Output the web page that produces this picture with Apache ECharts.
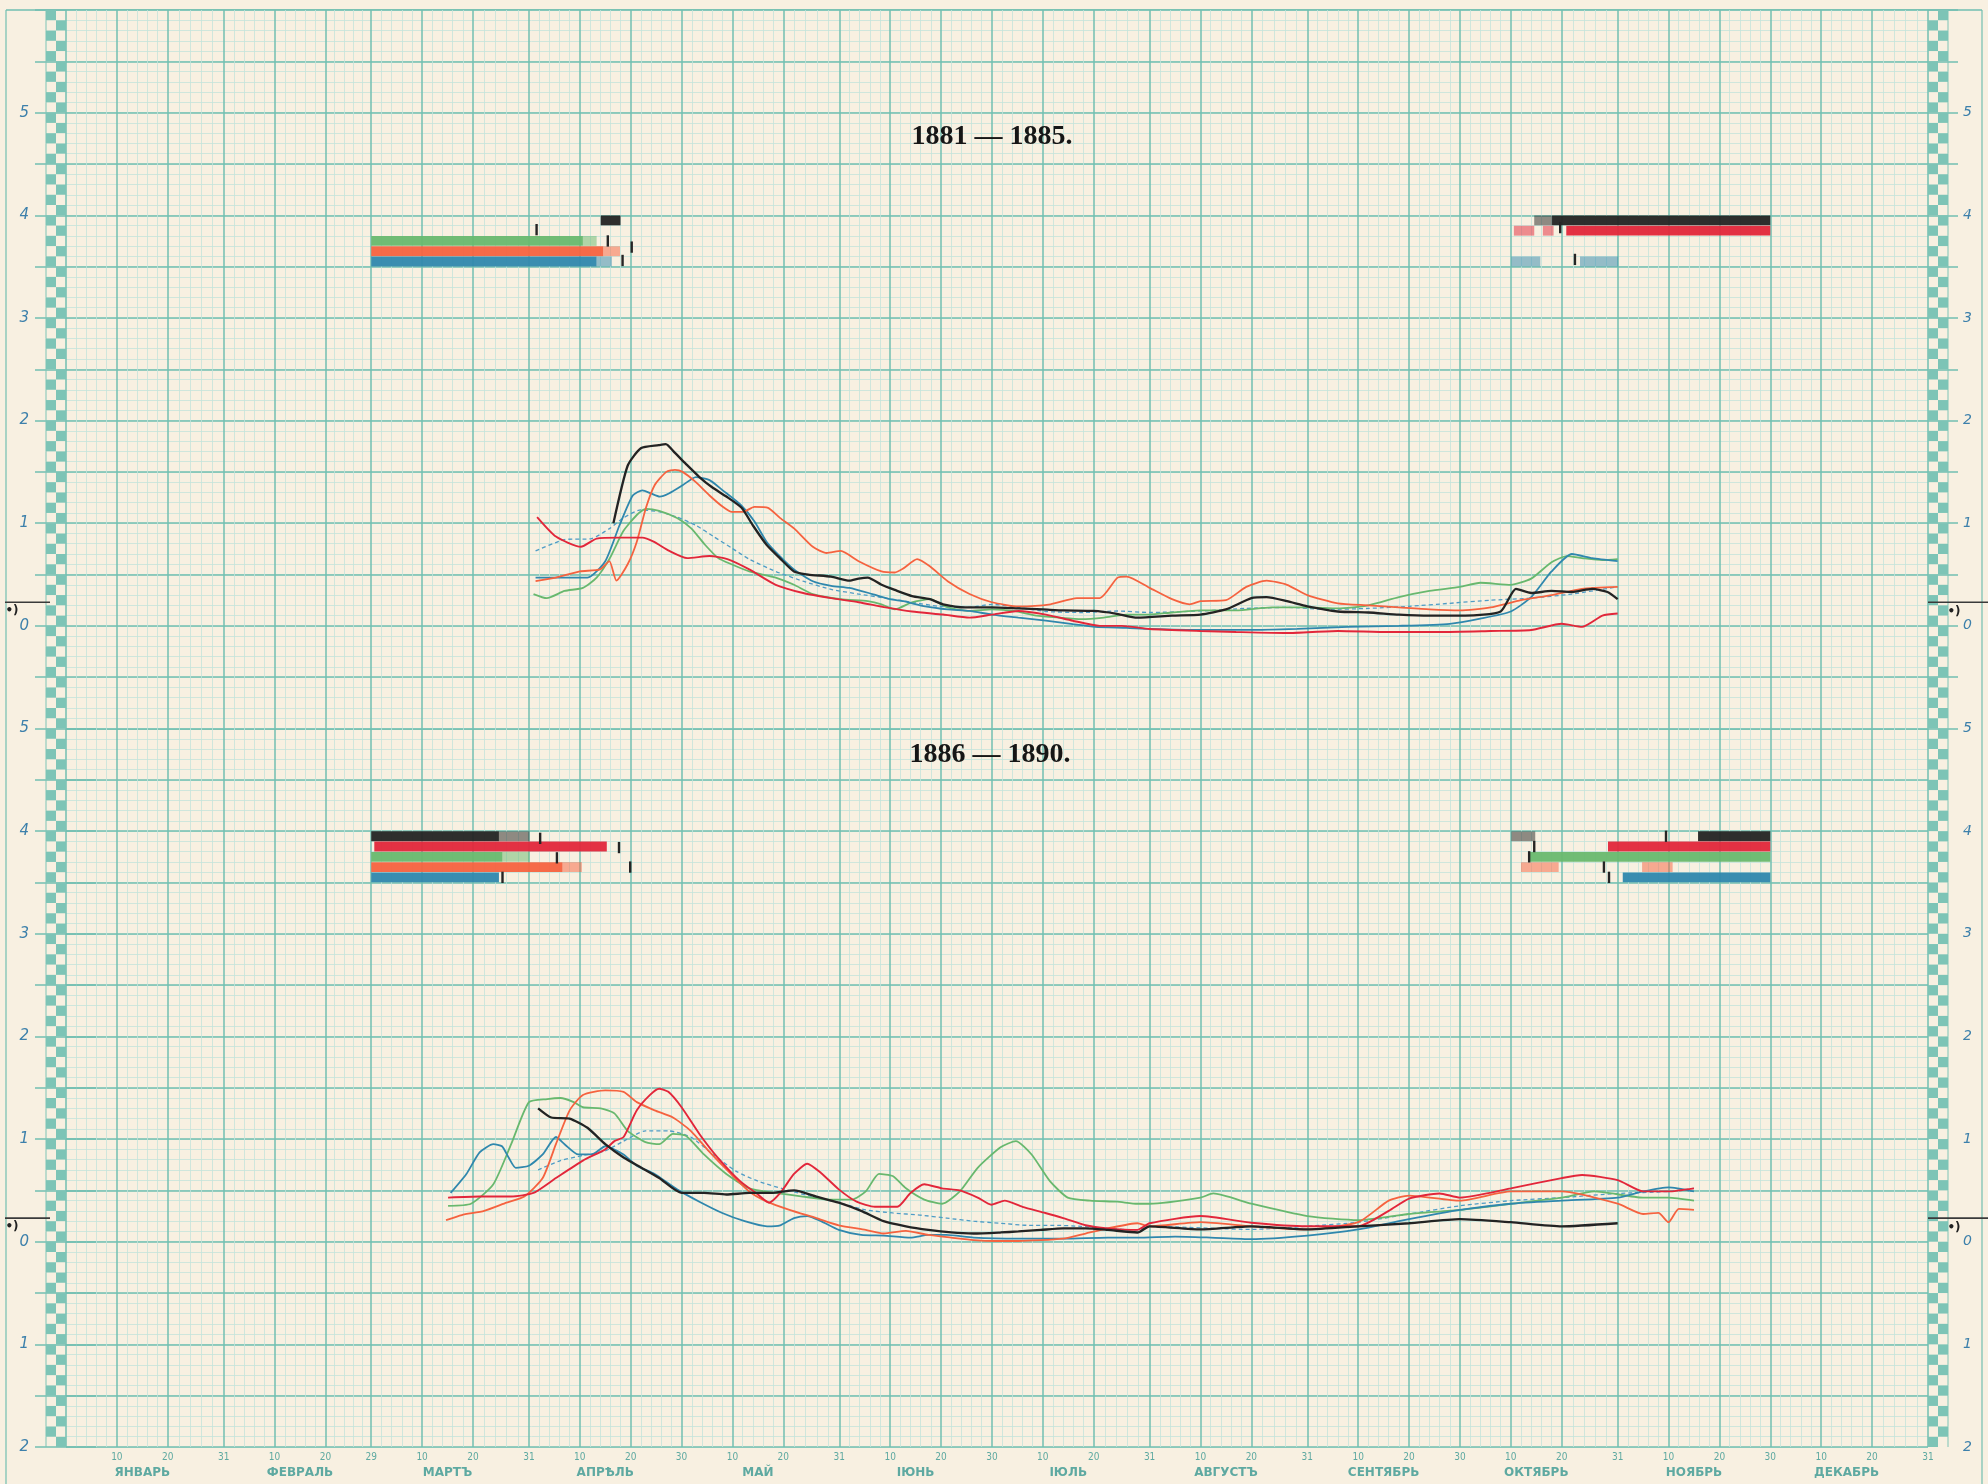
<!DOCTYPE html>
<html><head><meta charset="utf-8">
<script src="https://cdn.jsdelivr.net/npm/echarts@6/dist/echarts.min.js"></script>
<style>html,body{margin:0;padding:0;background:#f8f0e1;}#c{width:1988px;height:1484px;}</style>
</head><body><div id="c"></div>
<script>
// ---------- calendar & labels ----------
const monthNames = ['ЯНВАРЬ','ФЕВРАЛЬ','МАРТЪ','АПРѢЛЬ','МАЙ','ІЮНЬ','ІЮЛЬ','АВГУСТЪ','СЕНТЯБРЬ','ОКТЯБРЬ','НОЯБРЬ','ДЕКАБРЬ'];
const monthLengths = [31,29,31,30,31,30,31,31,30,31,30,31];
const dayTickLabels = ['10','20','31','10','20','29','10','20','31','10','20','30','10','20','31','10','20','30',
                       '10','20','31','10','20','31','10','20','30','10','20','31','10','20','30','10','20','31'];
const yLabelsTop = [0,1,2,3,4,5];
const yLabelsBottom = [-2,-1,0,1,2,3,4,5];
const panelTitles = ['1881 — 1885.', '1886 — 1890.'];

// ---------- 1881–1885 curves [day of year, value] ----------
const topBlack = [[107.6,1.00],[110.4,1.56],[113,1.73],[116.5,1.76],[117.9,1.77],[119.6,1.69],[121.8,1.58],[124.5,1.45],[127,1.35],[129.8,1.26],[132.8,1.15],[135,0.98],[137.7,0.79],[140.3,0.66],[143.1,0.53],[145.9,0.50],[150.4,0.48],[154,0.44],[155.8,0.46],[157.6,0.47],[160.3,0.40],[162.9,0.35],[166.3,0.29],[169.8,0.26],[172.4,0.21],[176.7,0.18],[182,0.18],[187.2,0.17],[192,0.16],[196.1,0.15],[202,0.145],[206.3,0.12],[210.6,0.08],[217.4,0.10],[223,0.11],[228,0.16],[233,0.27],[236,0.28],[240,0.24],[244,0.19],[250,0.14],[256,0.13],[262,0.11],[268,0.10],[275,0.10],[282,0.14],[285,0.36],[288,0.32],[292,0.34],[296,0.33],[300,0.36],[303,0.33],[305,0.26]];
const topRed = [[92.6,1.06],[96.3,0.87],[101.2,0.77],[104.3,0.85],[108.8,0.86],[113.3,0.86],[115.5,0.82],[118.6,0.73],[122.1,0.66],[126.5,0.68],[130,0.65],[134.3,0.55],[139.5,0.40],[144.9,0.32],[150.4,0.27],[155.8,0.23],[161.1,0.18],[166.3,0.14],[172.4,0.11],[177.6,0.08],[182,0.11],[187.2,0.145],[192.6,0.11],[197.9,0.05],[203.2,0.0],[207.5,0.0],[213,-0.03],[223,-0.05],[230,-0.06],[240,-0.07],[250,-0.05],[260,-0.06],[270,-0.06],[280,-0.05],[288,-0.04],[294,0.02],[298,-0.01],[302,0.10],[305,0.12]];
const topSalmon = [[92.3,0.435],[96.3,0.47],[101,0.53],[105,0.55],[106.8,0.63],[108.2,0.44],[110.4,0.60],[112.2,0.82],[114,1.15],[115.7,1.37],[118,1.50],[119.7,1.52],[121.2,1.50],[123.8,1.40],[126.5,1.27],[129.1,1.16],[130.9,1.11],[133.1,1.11],[135.3,1.16],[138,1.15],[140.4,1.05],[143.1,0.95],[146.8,0.77],[149.5,0.71],[152.3,0.73],[155.8,0.63],[160.3,0.53],[162.9,0.52],[164.6,0.56],[167.3,0.65],[169.8,0.58],[173.3,0.435],[177.6,0.31],[182,0.23],[187.2,0.19],[193.5,0.21],[198.7,0.27],[203.2,0.27],[206.7,0.47],[208.5,0.48],[213,0.37],[217.4,0.26],[220.9,0.21],[223,0.24],[228,0.25],[232,0.38],[236,0.44],[240,0.40],[244,0.30],[250,0.22],[256,0.20],[262,0.18],[268,0.16],[274,0.15],[280,0.18],[286,0.25],[292,0.30],[298,0.36],[305,0.38]];
const topGreen = [[91.9,0.31],[94.5,0.27],[98,0.34],[101.6,0.37],[104.3,0.47],[106.9,0.66],[109.5,0.92],[112.2,1.08],[114,1.14],[116.6,1.12],[120.1,1.05],[122.9,0.95],[125.6,0.79],[128.2,0.66],[130.8,0.60],[134.3,0.53],[139.5,0.47],[143.1,0.40],[146.8,0.31],[152.3,0.26],[157.6,0.24],[160.3,0.21],[162.9,0.16],[166.3,0.23],[169.8,0.26],[173.3,0.18],[177.6,0.145],[182,0.16],[186.3,0.145],[190.7,0.10],[195.2,0.08],[199.6,0.065],[204,0.08],[208.5,0.11],[213,0.11],[217.4,0.13],[223,0.15],[230,0.15],[237,0.18],[244,0.18],[250,0.17],[256,0.20],[262,0.28],[268,0.34],[274,0.38],[278,0.42],[284,0.40],[288,0.46],[292,0.62],[295,0.68],[298,0.66],[302,0.64],[305,0.65]];
const topBlue = [[92.3,0.47],[102.5,0.47],[106,0.63],[108.8,0.98],[111.4,1.27],[113.3,1.32],[115,1.29],[116.7,1.26],[118.5,1.29],[121.2,1.37],[123.8,1.45],[126.5,1.42],[129.1,1.32],[132.6,1.18],[135.3,1.02],[137.7,0.82],[140.3,0.68],[143.1,0.55],[146.8,0.435],[150.4,0.39],[154,0.37],[158.5,0.31],[162,0.26],[164.6,0.24],[168.9,0.19],[173.3,0.16],[177.6,0.145],[182,0.11],[187.2,0.08],[192.6,0.05],[197.9,0.016],[202.3,-0.01],[208.5,-0.02],[213,-0.03],[223,-0.04],[232,-0.04],[242,-0.03],[252,-0.01],[262,0.0],[272,0.02],[278,0.07],[284,0.14],[288,0.28],[292,0.53],[296,0.70],[300,0.66],[305,0.63]];
const topMean = [[92.3,0.73],[98,0.84],[103.3,0.85],[106.9,0.95],[109.5,1.05],[113,1.13],[116.7,1.11],[120.1,1.06],[123.8,0.98],[127.3,0.87],[130.8,0.76],[134.3,0.65],[139.5,0.53],[144.9,0.435],[150.4,0.355],[155.8,0.31],[161.1,0.27],[166.3,0.23],[171.6,0.19],[177.6,0.18],[182,0.21],[187.2,0.18],[192.6,0.14],[199.6,0.13],[206.7,0.145],[213,0.13],[223,0.145],[232,0.17],[240,0.18],[248,0.16],[256,0.17],[264,0.19],[272,0.22],[280,0.25],[288,0.27],[296,0.31],[305,0.38]];

// ---------- 1886–1890 curves ----------
const botBlack = [[92.8,1.30],[95.4,1.21],[99,1.20],[102.5,1.11],[106,0.95],[109.6,0.82],[113.1,0.72],[116.6,0.62],[121,0.475],[125.4,0.475],[129.8,0.46],[134.3,0.475],[138.6,0.475],[143.1,0.50],[147.5,0.44],[151.9,0.38],[156.3,0.30],[160.7,0.20],[165.1,0.15],[169.5,0.115],[174,0.09],[178.4,0.08],[183.7,0.09],[187.2,0.10],[191.6,0.115],[196,0.13],[200.4,0.13],[204.8,0.115],[210.6,0.09],[213,0.15],[223,0.12],[233,0.15],[244,0.12],[254,0.15],[264,0.18],[274,0.22],[284,0.19],[294,0.15],[305,0.18]];
const botRed = [[75.1,0.43],[81.3,0.44],[87.5,0.44],[91.9,0.475],[96.3,0.62],[101.6,0.79],[106,0.90],[107.8,0.98],[109.6,1.02],[112.2,1.28],[114.8,1.43],[116.6,1.49],[118.4,1.46],[121,1.31],[124.5,1.05],[128.1,0.82],[132.5,0.59],[136,0.46],[138.2,0.38],[140.4,0.475],[143.1,0.66],[145.7,0.76],[148.4,0.67],[151.9,0.51],[155.4,0.39],[159,0.34],[163.4,0.34],[166,0.475],[168.7,0.56],[172.2,0.52],[175.7,0.50],[179.2,0.43],[181.9,0.36],[184.5,0.40],[188,0.34],[192.5,0.28],[196,0.23],[200.4,0.16],[204.8,0.13],[210.6,0.115],[213,0.18],[223,0.25],[233,0.185],[244,0.15],[254,0.15],[260,0.30],[264,0.42],[270,0.47],[274,0.43],[284,0.52],[294,0.62],[298,0.65],[305,0.60],[310,0.49],[315,0.49],[320,0.52]];
const botSalmon = [[74.7,0.21],[77.8,0.26],[82.2,0.30],[86.6,0.38],[90.1,0.44],[93.7,0.62],[96.3,0.95],[99,1.28],[101.6,1.43],[106,1.475],[109.6,1.46],[112.2,1.36],[115.7,1.28],[119.3,1.21],[122.8,1.08],[126.3,0.885],[130.7,0.66],[134.3,0.49],[137.8,0.39],[142.2,0.31],[147.5,0.23],[151.9,0.16],[157.2,0.115],[160.7,0.08],[165.1,0.105],[169.5,0.066],[174,0.04],[178.4,0.016],[182.8,0.007],[187.2,0.007],[196,0.03],[200.4,0.08],[204.8,0.13],[210.6,0.18],[213,0.15],[223,0.19],[233,0.15],[244,0.12],[254,0.19],[260,0.40],[264,0.45],[274,0.40],[284,0.49],[294,0.49],[305,0.37],[310,0.27],[313,0.28],[315,0.19],[317,0.32],[320,0.31]];
const botGreen = [[75.1,0.35],[79.6,0.37],[84,0.56],[87.5,0.95],[91,1.36],[94.6,1.39],[97.2,1.40],[99.8,1.36],[101.6,1.31],[105.1,1.30],[107.8,1.25],[110.4,1.08],[113.9,0.97],[116.6,0.95],[119.3,1.05],[121.9,1.03],[125.4,0.85],[129.8,0.66],[134.3,0.52],[139.5,0.475],[144.8,0.44],[150.1,0.41],[154.5,0.41],[157.2,0.49],[159.8,0.66],[162.5,0.64],[165.1,0.52],[168.7,0.41],[172.2,0.37],[175.7,0.49],[179.2,0.72],[183.7,0.92],[186.7,0.98],[189.8,0.85],[193.4,0.59],[196.9,0.43],[201.3,0.40],[206.6,0.39],[210.6,0.37],[213,0.37],[223,0.43],[225.5,0.47],[233,0.37],[244,0.25],[254,0.21],[264,0.27],[274,0.31],[284,0.37],[294,0.43],[300.4,0.49],[310,0.43],[315,0.43],[320,0.40]];
const botBlue = [[75.6,0.475],[78.7,0.66],[81.3,0.87],[84,0.95],[85.7,0.93],[87,0.82],[88.4,0.72],[91,0.74],[93.7,0.85],[96.3,1.02],[98,0.95],[100.7,0.85],[103.4,0.85],[106,0.93],[109.6,0.85],[112.2,0.74],[115.7,0.66],[120.1,0.51],[124.5,0.39],[129,0.28],[133.4,0.20],[137.8,0.15],[140.4,0.16],[143.1,0.23],[145.7,0.25],[148.4,0.20],[151.9,0.115],[156.3,0.066],[160.7,0.06],[166,0.04],[169.5,0.066],[173,0.066],[178.4,0.04],[187.2,0.03],[196,0.03],[204.8,0.04],[210.6,0.04],[218,0.05],[225,0.04],[233,0.025],[244,0.06],[254,0.12],[264,0.22],[274,0.31],[284,0.37],[294,0.40],[305,0.43],[310,0.49],[315,0.53],[320,0.49]];
const botMean = [[92.8,0.70],[97.2,0.79],[101.6,0.84],[106,0.885],[109.6,0.98],[113.9,1.08],[118.4,1.08],[122.8,1.02],[127.2,0.85],[131.6,0.69],[136,0.59],[141.3,0.51],[146.6,0.44],[151.9,0.38],[157.2,0.31],[162.5,0.28],[167.8,0.26],[173.1,0.23],[178.4,0.20],[183.7,0.18],[189,0.16],[194.3,0.16],[199.5,0.15],[204.8,0.13],[210.6,0.115],[213,0.15],[233,0.12],[244,0.15],[254,0.19],[264,0.27],[274,0.35],[284,0.40],[294,0.43],[305,0.47],[315,0.49],[320,0.52]];

// ---------- ice-cover bars [startDay, endDay, uncertain] per year (5 years per panel) ----------
const iceTop1 = [[105.1,109.0,0],[288.6,292.1,1],[292.1,335,0]];
const iceTop2 = [[284.6,288.6,1],[290.3,292.4,1],[294.9,335,0]];
const iceTop3 = [[60,101.6,0],[101.6,104.3,1]];
const iceTop4 = [[60,105.6,0],[105.6,108.9,1]];
const iceTop5 = [[60,104.3,0],[104.3,107.3,1],[284.1,289.8,1],[297.6,305.1,1]];
const iceTopMarks = [[92.5,3.86],[106.5,3.75],[111.2,3.69],[109.4,3.56],[293.7,3.88],[296.6,3.57]];

const iceBot1 = [[60,85.1,0],[85.1,91.1,1],[284.1,288.8,1],[320.8,335,0]];
const iceBot2 = [[60.6,106.3,0],[303.1,335,0]];
const iceBot3 = [[60,85.8,0],[85.8,91.1,1],[287.7,335,0]];
const iceBot4 = [[60,97.6,0],[97.6,101.4,1],[286,293.4,1],[309.8,315.8,1]];
const iceBot5 = [[60,85.1,0],[306,335,0]];
const iceBotMarks = [[93.2,3.93],[108.7,3.84],[96.5,3.74],[110.9,3.65],[85.8,3.55],[314.5,3.95],[288.6,3.85],[287.6,3.75],[302.3,3.65],[303.3,3.55]];

const iceRowLevels = [3.95, 3.85, 3.75, 3.65, 3.55];
const refLevel = 0.23;

// ---------- styling ----------
const YEAR_COLORS = ['#232323', '#e2263a', '#68b86e', '#f5623f', '#2f87ad'];
const MEAN_COLOR = '#4f9cc6';
const PAPER = '#f8f0e1';
const TEAL = '#72bfb1', TEAL_MINOR = '#c4e3da', CHECK = '#7dc4b6';
const LABEL_BLUE = '#3d80ab', LABEL_TEAL = '#5ea9a1';

// derived tick positions (calendar)
const dayTickPos = [];
const monthMid = [];
{ let s = 0; monthLengths.forEach(len => { dayTickPos.push(s + 10, s + 20, s + len); monthMid.push(s + 15); s += len; }); }
const minorPos = [];
{ let prev = 0; dayTickPos.forEach(p => { for (let k = 1; k < 5; k++) minorPos.push(+(prev + (p - prev) * k / 5).toFixed(3)); prev = p; }); }

const panels = [
  { yMin: -1, yMax: 6, labels: yLabelsTop, curves: [topMean, topGreen, topBlue, topSalmon, topRed, topBlack],
    ice: [iceTop1, iceTop2, iceTop3, iceTop4, iceTop5], marks: iceTopMarks },
  { yMin: -2, yMax: 5, labels: yLabelsBottom, curves: [botMean, botGreen, botBlue, botSalmon, botRed, botBlack],
    ice: [iceBot1, iceBot2, iceBot3, iceBot4, iceBot5], marks: iceBotMarks }
];
const curveColors = [MEAN_COLOR, YEAR_COLORS[2], YEAR_COLORS[4], YEAR_COLORS[3], YEAR_COLORS[1], YEAR_COLORS[0]];
const curveWidths = [1.3, 1.8, 1.8, 1.8, 1.9, 2.3];

const GRID_LEFT = 66, GRID_W = 1862, GRID_TOP = 10, GRID_H = 718.5;

const grids = [], xAxes = [], yAxes = [], series = [];
panels.forEach((p, g) => {
  grids.push({ left: GRID_LEFT, width: GRID_W, top: GRID_TOP + g * GRID_H, height: GRID_H, containLabel: false });
  const xMinorIdx = xAxes.length;
  xAxes.push({ type: 'value', gridIndex: g, min: 0, max: 366, position: 'top',
    axisLine: { show: false }, axisLabel: { show: false },
    axisTick: { show: false, customValues: minorPos },
    splitLine: { show: true, lineStyle: { color: TEAL_MINOR, width: 0.8 } } });
  xAxes.push({ type: 'value', gridIndex: g, min: 0, max: 366, position: 'bottom',
    axisLine: { show: false },
    axisTick: { show: false, customValues: [0].concat(dayTickPos) },
    axisLabel: g === 1 ? { show: true, customValues: dayTickPos, margin: 5, color: LABEL_TEAL,
        fontSize: 10, fontFamily: 'DejaVu Sans Condensed, DejaVu Sans',
        formatter: v => dayTickLabels[dayTickPos.indexOf(Math.round(v))] || '' } : { show: false },
    splitLine: { show: true, lineStyle: { color: TEAL, width: 1.5 } } });
  if (g === 1) {
    xAxes.push({ type: 'value', gridIndex: g, min: 0, max: 366, position: 'bottom',
      axisLine: { show: false }, axisTick: { show: false }, splitLine: { show: false },
      axisLabel: { show: true, customValues: monthMid, margin: 20, color: LABEL_TEAL, fontSize: 12,
        fontWeight: 'bold', fontFamily: 'DejaVu Sans',
        formatter: v => monthNames[monthMid.indexOf(Math.round(v))] || '' } });
  }
  const yMinorIdx = yAxes.length;
  yAxes.push({ type: 'value', gridIndex: g, min: p.yMin, max: p.yMax, interval: 0.1, position: 'left',
    axisLine: { show: false }, axisTick: { show: false }, axisLabel: { show: false },
    splitLine: { show: true, lineStyle: { color: TEAL_MINOR, width: 0.8 } } });
  const labelFmt = v => String(Math.abs(Math.round(v)));
  yAxes.push({ type: 'value', gridIndex: g, min: p.yMin, max: p.yMax, interval: 0.5, position: 'left',
    axisLine: { show: false },
    axisTick: { show: true, inside: false, length: 31, lineStyle: { color: TEAL, width: 1.5 } },
    axisLabel: { show: true, customValues: p.labels, margin: 37, color: LABEL_BLUE, fontSize: 15,
      fontStyle: 'italic', fontFamily: 'DejaVu Sans', formatter: labelFmt },
    splitLine: { show: true, lineStyle: { color: TEAL, width: 1.5 } } });
  yAxes.push({ type: 'value', gridIndex: g, min: p.yMin, max: p.yMax, interval: 0.5, position: 'right',
    axisLine: { show: false },
    axisTick: { show: true, inside: false, length: 30, lineStyle: { color: TEAL, width: 1.5 } },
    axisLabel: { show: true, customValues: p.labels, margin: 35, color: LABEL_BLUE, fontSize: 14,
      fontStyle: 'italic', fontFamily: 'DejaVu Sans', formatter: labelFmt },
    splitLine: { show: false } });

  // checkered border strips
  const rows = [];
  for (let i = 0; i < Math.round((p.yMax - p.yMin) * 10); i++) rows.push([i]);
  series.push({ type: 'custom', xAxisIndex: xMinorIdx, yAxisIndex: yMinorIdx, clip: false, silent: true, z: 1,
    data: rows,
    renderItem: (params, api) => {
      const i = api.value(0);
      const v = p.yMin + i * 0.1;
      const a = api.coord([0, v]), b = api.coord([366, v + 0.1]);
      const h = a[1] - b[1];
      const odd = i % 2 === 1;
      return { type: 'group', children: [
        { type: 'rect', shape: { x: odd ? a[0] - 20 : a[0] - 10, y: b[1], width: 10, height: h }, style: { fill: CHECK } },
        { type: 'rect', shape: { x: odd ? b[0] + 10 : b[0], y: b[1], width: 10, height: h }, style: { fill: CHECK } },
        { type: 'line', shape: { x1: a[0] - 20, y1: b[1], x2: a[0] - 20, y2: a[1] }, style: { stroke: CHECK, lineWidth: 1 } },
        { type: 'line', shape: { x1: b[0] + 20, y1: b[1], x2: b[0] + 20, y2: a[1] }, style: { stroke: CHECK, lineWidth: 1 } }
      ] };
    } });

  // reference-level markers "•)" on both margins
  series.push({ type: 'custom', xAxisIndex: xMinorIdx, yAxisIndex: yMinorIdx, clip: false, silent: true, z: 4,
    data: [[refLevel]],
    renderItem: (params, api) => {
      const a = api.coord([0, api.value(0)]), b = api.coord([366, api.value(0)]);
      return { type: 'group', children: [
        { type: 'line', shape: { x1: a[0] - 61, y1: a[1], x2: a[0] - 16, y2: a[1] }, style: { stroke: '#3a3a3a', lineWidth: 1.6 } },
        { type: 'text', style: { x: a[0] - 54, y: a[1] + 9, text: '•)', fill: '#222', font: 'bold 12px DejaVu Sans', align: 'center', verticalAlign: 'middle' } },
        { type: 'line', shape: { x1: b[0], y1: b[1], x2: b[0] + 60, y2: b[1] }, style: { stroke: '#3a3a3a', lineWidth: 1.6 } },
        { type: 'text', style: { x: b[0] + 26, y: b[1] + 10, text: '•)', fill: '#222', font: 'bold 12px DejaVu Sans', align: 'center', verticalAlign: 'middle' } }
      ] };
    } });

  // ice bars
  const barData = [];
  p.ice.forEach((arr, yi) => arr.forEach(d => barData.push([d[0], d[1], iceRowLevels[yi], d[2], yi])));
  series.push({ type: 'custom', xAxisIndex: xMinorIdx, yAxisIndex: yMinorIdx, silent: true, z: 3,
    data: barData,
    renderItem: (params, api) => {
      const lvl = api.value(2);
      const p0 = api.coord([api.value(0), lvl + 0.048]);
      const p1 = api.coord([api.value(1), lvl - 0.048]);
      const faint = api.value(3) === 1;
      return { type: 'rect', shape: { x: p0[0], y: p0[1], width: p1[0] - p0[0], height: p1[1] - p0[1] },
        style: { fill: YEAR_COLORS[api.value(4)], opacity: faint ? 0.5 : 0.95 } };
    } });
  series.push({ type: 'custom', xAxisIndex: xMinorIdx, yAxisIndex: yMinorIdx, silent: true, z: 4,
    data: p.marks,
    renderItem: (params, api) => {
      const t = api.coord([api.value(0), api.value(1) + 0.055]);
      const b = api.coord([api.value(0), api.value(1) - 0.055]);
      return { type: 'line', shape: { x1: t[0], y1: t[1], x2: b[0], y2: b[1] }, style: { stroke: '#252525', lineWidth: 2.4 } };
    } });

  // curves
  p.curves.forEach((data, ci) => {
    series.push({ type: 'line', xAxisIndex: xMinorIdx, yAxisIndex: yMinorIdx, data: data,
      showSymbol: false, smooth: 0.2, silent: true, z: 5 + ci,
      lineStyle: { color: curveColors[ci], width: curveWidths[ci], type: ci === 0 ? [4, 3] : 'solid' } });
  });
});

const chart = echarts.init(document.getElementById('c'), null, { renderer: 'canvas' });
chart.setOption({
  backgroundColor: PAPER,
  animation: false,
  grid: grids, xAxis: xAxes, yAxis: yAxes, series: series,
  graphic: [
    { type: 'line', shape: { x1: 6, y1: 10, x2: 1982, y2: 10 }, style: { stroke: TEAL, lineWidth: 1.5 }, silent: true },
    { type: 'line', shape: { x1: 6, y1: 10, x2: 6, y2: 1484 }, style: { stroke: TEAL, lineWidth: 1.2 }, silent: true },
    { type: 'line', shape: { x1: 1982, y1: 10, x2: 1982, y2: 1484 }, style: { stroke: TEAL, lineWidth: 1.2 }, silent: true },
    { type: 'text', x: 992, y: 137, z: 10, style: { text: panelTitles[0], fill: '#161616', font: 'bold 28px "Liberation Serif"', align: 'center', verticalAlign: 'middle' } },
    { type: 'text', x: 990, y: 755, z: 10, style: { text: panelTitles[1], fill: '#161616', font: 'bold 28px "Liberation Serif"', align: 'center', verticalAlign: 'middle' } }
  ]
});
</script></body></html>
